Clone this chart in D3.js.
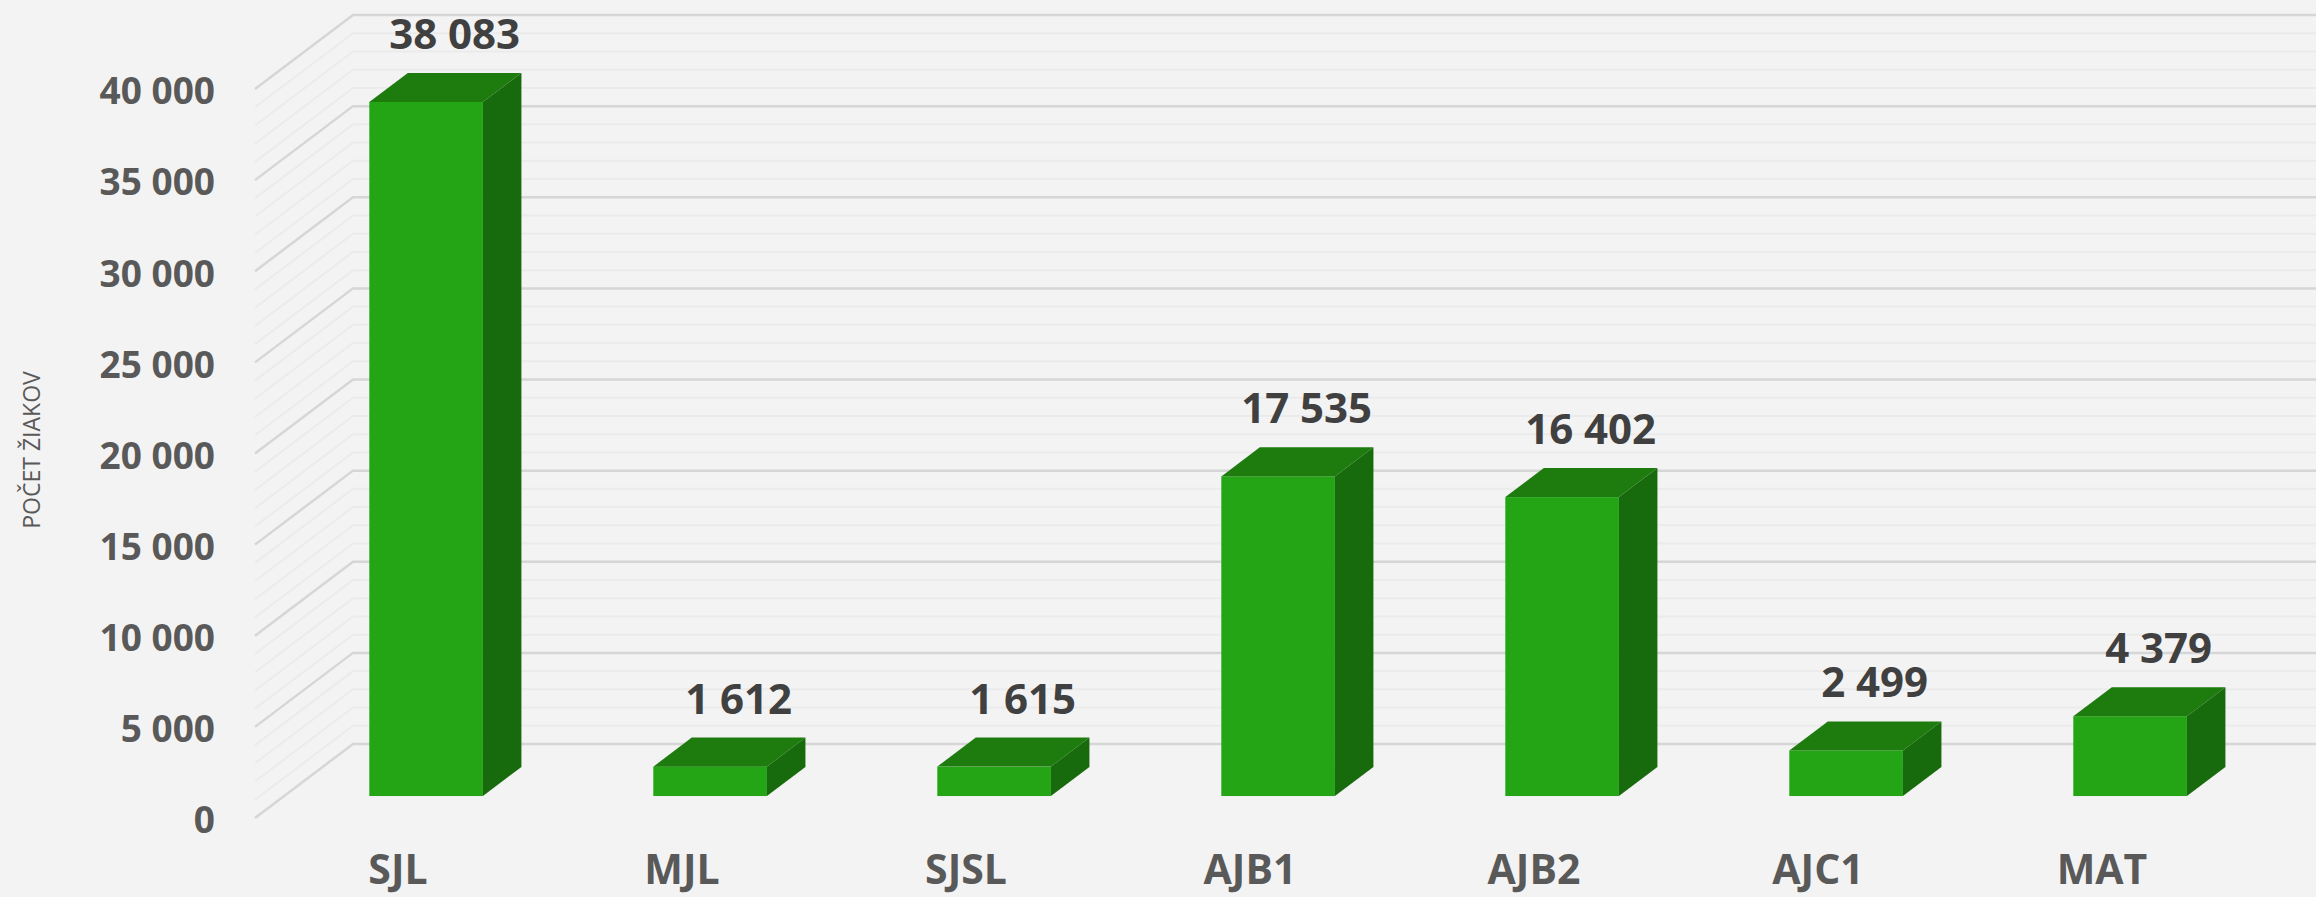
<!DOCTYPE html>
<html>
<head>
<meta charset="utf-8">
<script src="https://cdn.jsdelivr.net/npm/d3@7"></script>
<style>
  body { margin: 0; background: #f3f3f3; }
  svg { display: block; }
</style>
</head>
<body>
<script>
/* Data
***********************************************************************/
var categories = ["SJL", "MJL", "SJSL", "AJB1", "AJB2", "AJC1", "MAT"];
var values = [38083, 1612, 1615, 17535, 16402, 2499, 4379];
var yTicks = [0, 5000, 10000, 15000, 20000, 25000, 30000, 35000, 40000];
var axisTitle = "POČET ŽIAKOV";

/* Setup
***********************************************************************/
var svgW = 2316;
var svgH = 897;

var x0 = 255;          // left of the front floor edge
var bandStep = 284;
var depthX = 98;       // 3D depth offset of back wall
var depthY = 74;
var barFront = 0.297;  // bars sit inside the depth
var barBack = 0.69;

var fontfam = "'Open Sans', 'Noto Sans', sans-serif";

var svg = d3.select("body").append("svg")
	.attr("width", svgW)
	.attr("height", svgH);

svg.append("rect")
	.attr("width", svgW)
	.attr("height", svgH)
	.attr("fill", "#f3f3f3");

// Scales (front plane)
var xScale = d3.scaleBand()
	.domain(categories)
	.range([x0, x0 + categories.length * bandStep])
	.paddingInner(0.6)
	.paddingOuter(0.3);

var yScale = d3.scaleLinear()
	.domain([0, 40000])
	.range([818, 89]);

var wallRight = svgW + 10;

/* Walls and gridlines
***********************************************************************/
var gridGroup = svg.append("g").attr("id", "grid");
var minorVals = d3.range(0, 40001, 1000);

minorVals.forEach(function(v) {
	var major = v % 5000 === 0;
	var yf = yScale(v);
	var yb = yf - depthY;
	var col = major ? "#d6d6d6" : "#ebebeb";
	var w = major ? 2.5 : 2;
	var p = d3.path();
	p.moveTo(x0, yf);
	p.lineTo(x0 + depthX, yb);
	p.lineTo(wallRight, yb);
	gridGroup.append("path")
		.attr("d", p.toString())
		.attr("fill", "none")
		.attr("stroke", col)
		.attr("stroke-width", w);
});

/* Y axis labels
***********************************************************************/
svg.append("g").selectAll("text")
	.data(yTicks)
	.join("text")
	.attr("x", 215)
	.attr("y", function(d) { return yScale(d) + 2; })
	.attr("dy", "0.36em")
	.attr("text-anchor", "end")
	.attr("font-family", fontfam)
	.attr("font-weight", "bold")
	.attr("font-size", "37px")
	.attr("fill", "#595959")
	.text(function(d) { return d3.format(",")(d).replace(/,/g, " "); });

svg.append("text")
	.attr("transform", "translate(40,450) rotate(-90)")
	.attr("text-anchor", "middle")
	.attr("font-family", fontfam)
	.attr("font-size", "23px")
	.attr("fill", "#595959")
	.text(axisTitle);

/* Bars
***********************************************************************/
var colFront = "#23a515";
var colTop = "#1e7c0f";
var colSide = "#186b0c";

var barGroup = svg.append("g").attr("id", "bars");
var bw = xScale.bandwidth();
var ddx = (barBack - barFront) * depthX;
var ddy = (barBack - barFront) * depthY;

categories.forEach(function(c, i) {
	var v = values[i];
	var xl = xScale(c) + barFront * depthX;
	var xr = xl + bw;
	var yb = yScale(0) - barFront * depthY;
	var yt = yScale(v) - barFront * depthY;
	var g = barGroup.append("g");

	// front
	g.append("rect")
		.attr("x", xl).attr("y", yt)
		.attr("width", bw).attr("height", yb - yt)
		.attr("fill", colFront);
	// top
	g.append("path")
		.attr("d", "M" + xl + "," + yt + "L" + (xl + ddx) + "," + (yt - ddy) +
			"L" + (xr + ddx) + "," + (yt - ddy) + "L" + xr + "," + yt + "Z")
		.attr("fill", colTop);
	// side
	g.append("path")
		.attr("d", "M" + xr + "," + yt + "L" + (xr + ddx) + "," + (yt - ddy) +
			"L" + (xr + ddx) + "," + (yb - ddy) + "L" + xr + "," + yb + "Z")
		.attr("fill", colSide);

	// value label
	g.append("text")
		.attr("x", xl + bw / 2 + ddx - 10)
		.attr("y", yt - ddy - 24)
		.attr("text-anchor", "middle")
		.attr("font-family", fontfam)
		.attr("font-weight", "bold")
		.attr("font-size", "42px")
		.attr("fill", "#404040")
		.text(d3.format(",")(v).replace(/,/g, " "));
});

/* Category labels
***********************************************************************/
svg.append("g").selectAll("text")
	.data(categories)
	.join("text")
	.attr("x", function(d) { return xScale(d) + bw / 2 + 1; })
	.attr("y", 884)
	.attr("text-anchor", "middle")
	.attr("font-family", fontfam)
	.attr("font-weight", "bold")
	.attr("font-size", "41px")
	.attr("fill", "#595959")
	.text(function(d) { return d; });
</script>
</body>
</html>
